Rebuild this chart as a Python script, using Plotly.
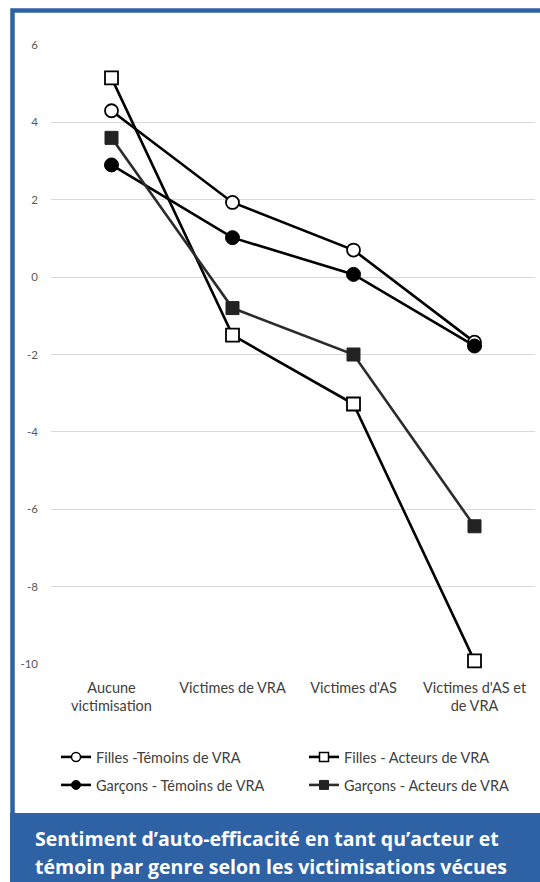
import plotly.graph_objects as go

categories = ["Aucune<br>victimisation", "Victimes de VRA", "Victimes d'AS", "Victimes d'AS et<br>de VRA"]
filles_temoins = [4.3, 1.93, 0.7, -1.68]
filles_acteurs = [5.15, -1.5, -3.28, -9.92]
garcons_temoins = [2.9, 1.02, 0.07, -1.78]
garcons_acteurs = [3.6, -0.8, -2.0, -6.44]
y_ticks = [6, 4, 2, 0, -2, -4, -6, -8, -10]

W, H = 540, 882
L, R, T, B = 51, 535, 45, 664
def px(x):
    return (x - L) / (R - L)
def py(y):
    return (B - y) / (B - T)

BLUE = "#2E62A5"
FONT = "Lato"
TXT = "#404040"

series = [
    ("Filles -Témoins de VRA", filles_temoins, "circle", "white", "black", 13),
    ("Filles - Acteurs de VRA", filles_acteurs, "square", "white", "black", 13),
    ("Garçons - Témoins de VRA", garcons_temoins, "circle", "black", "black", 14),
    ("Garçons - Acteurs de VRA", garcons_acteurs, "square", "#222222", "#2b2b2b", 13),
]
legend_ids = ["legend", "legend2", "legend3", "legend4"]
legend_pos = [(56, 757), (304, 757), (56, 785), (304, 785)]

fig = go.Figure()
for name, vals, sym, fill, lcol, msize in series:
    fig.add_trace(go.Scatter(
        x=categories, y=vals, mode="lines+markers", name=name, showlegend=False, cliponaxis=False,
        line=dict(color=lcol, width=2.6),
        marker=dict(symbol=sym, size=msize, color=fill,
                    line=dict(color="black" if fill == "white" else fill, width=1.8 if fill == "white" else 1)),
    ))
# legend-only entries (smaller symbols, as in the reference legend)
for (name, vals, sym, fill, lcol, msize), leg in zip(series, legend_ids):
    fig.add_trace(go.Scatter(
        x=[None], y=[None], mode="lines+markers", name=name, legend=leg, showlegend=True,
        line=dict(color=lcol, width=2.6),
        marker=dict(symbol=sym, size=9, color=fill,
                    line=dict(color="black" if fill == "white" else fill, width=1.5 if fill == "white" else 1)),
    ))

legend_common = dict(orientation="h", xanchor="left", yanchor="middle", bgcolor="rgba(0,0,0,0)",
                     font=dict(family=FONT, size=14.5, color=TXT), itemsizing="trace")
legends = {leg: dict(x=px(lx), y=py(ly), **legend_common) for leg, (lx, ly) in zip(legend_ids, legend_pos)}

fig.update_layout(
    width=W, height=H,
    margin=dict(l=L, r=W - R, t=T, b=H - B),
    paper_bgcolor="white", plot_bgcolor="white",
    font=dict(family=FONT, color=TXT),
    showlegend=True,
    xaxis=dict(type="category", range=[-0.5, 3.5], showgrid=False, zeroline=False, showline=False,
               tickfont=dict(family=FONT, size=14.5, color=TXT), ticks="", ticklabelstandoff=13),
    yaxis=dict(range=[-10, 6], tickvals=y_ticks, ticktext=[str(v) for v in y_ticks],
               showgrid=True, gridcolor="#d9d9d9", gridwidth=1.2, zeroline=False, showline=False,
               tickfont=dict(family=FONT, size=11.5, color="#595959"), ticks="", ticklabelstandoff=12),
    shapes=[
        dict(type="rect", xref="paper", yref="paper", x0=px(12.5), x1=px(580), y0=py(830), y1=py(10.5),
             line=dict(color=BLUE, width=4.5), fillcolor="rgba(0,0,0,0)", layer="above"),
        dict(type="rect", xref="paper", yref="paper", x0=px(10), x1=px(580), y0=py(900), y1=py(813),
             line=dict(width=0), fillcolor=BLUE, layer="above"),
    ],
    annotations=[
        dict(xref="paper", yref="paper", x=px(33), y=py(838), xanchor="left", yanchor="middle", showarrow=False,
             text="<b>Sentiment d’auto-efficacité en tant qu’acteur et</b>",
             font=dict(family="Open Sans", size=19.5, color="white")),
        dict(xref="paper", yref="paper", x=px(33), y=py(866), xanchor="left", yanchor="middle", showarrow=False,
             text="<b>témoin par genre selon les victimisations vécues</b>",
             font=dict(family="Open Sans", size=19.5, color="white")),
    ],
    **legends,
)

fig.write_html("out.html", config={"displayModeBar": False},
               post_script="document.body.style.margin='0';document.body.style.overflow='hidden';")
